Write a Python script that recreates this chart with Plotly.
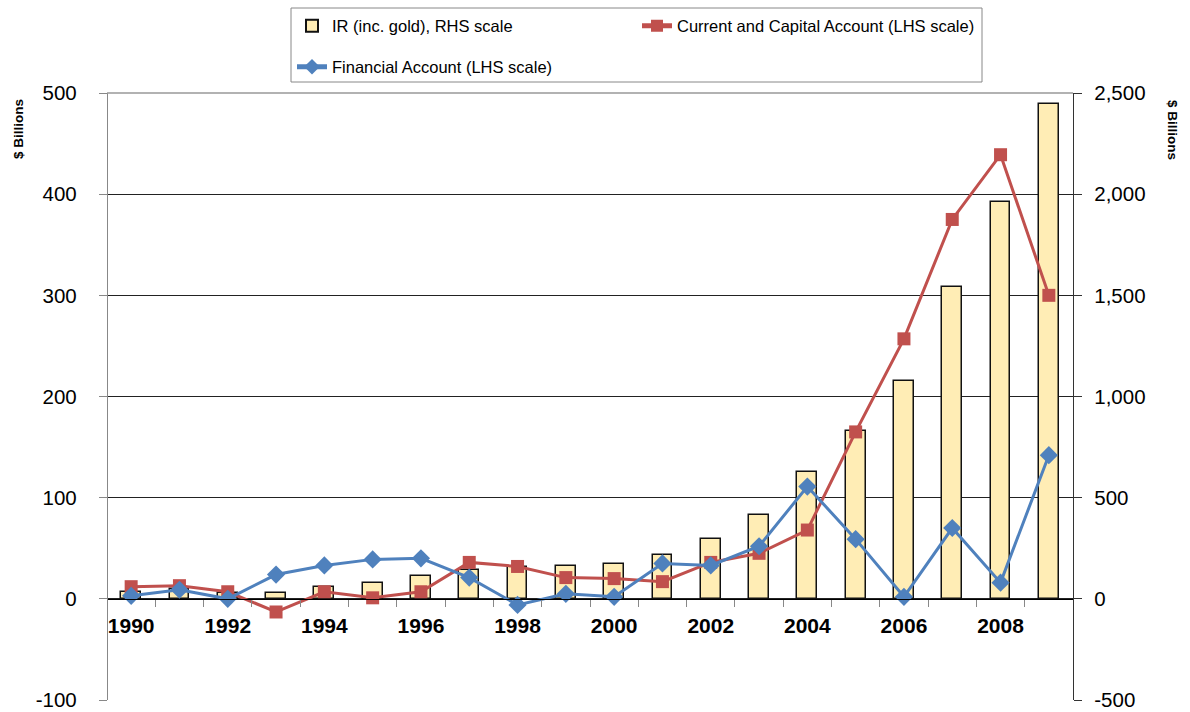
import plotly.graph_objects as go

# Annual series, $ billions
years = list(range(1990, 2010))
reserves_incl_gold = [35, 49, 30, 30, 59, 79, 114, 143, 158, 163,
                      173, 217, 296, 415, 627, 830, 1077, 1541, 1961, 2446]
current_capital = [12, 13, 7, -13, 7, 1, 7, 36, 32, 21,
                   20, 17, 36, 45, 68, 165, 257, 375, 439, 300]
financial = [3, 9, 0, 24, 33, 39, 40, 21, -6, 5,
             2, 35, 33, 52, 111, 59, 2, 70, 16, 142]
year_labels = [str(y) for y in years[::2]]

# Axis ticks (left: flows, right: reserves)
lhs_ticks = [-100, 0, 100, 200, 300, 400, 500]
lhs_labels = ["-100", "0", "100", "200", "300", "400", "500"]
rhs_ticks = [-500, 0, 500, 1000, 1500, 2000, 2500]
rhs_labels = ["-500", "0", "500", "1,000", "1,500", "2,000", "2,500"]

FONT = "Liberation Sans, Arial, sans-serif"
RED = "#C0504D"
BLUE = "#4F81BD"

fig = go.Figure()

# Reserves as bars on the right-hand scale (bottom subplot)
fig.add_trace(go.Bar(
    x=years, y=reserves_incl_gold, name="IR (inc. gold), RHS scale",
    width=0.41, marker=dict(color="#FFEDB5", line=dict(color="#111111", width=1.5)),
    xaxis="x", yaxis="y", legend="legend", showlegend=True,
))

# Flows as lines on the left-hand scale (overlay subplot, drawn on top)
fig.add_trace(go.Scatter(
    x=years, y=current_capital, name="Current and Capital Account (LHS scale)",
    mode="lines+markers", line=dict(color=RED, width=3),
    marker=dict(symbol="square", size=13, color=RED),
    xaxis="x2", yaxis="y2", legend="legend2", showlegend=True,
))
fig.add_trace(go.Scatter(
    x=years, y=financial, name="Financial Account (LHS scale)",
    mode="lines+markers", line=dict(color=BLUE, width=3),
    marker=dict(symbol="diamond", size=14, color=BLUE),
    xaxis="x2", yaxis="y2", legend="legend3", showlegend=True,
))

W, H = 1190, 712
L, R, T, B = 107, 117, 93, 12
pw, ph = W - L - R, H - T - B


def px_x(x):
    return (x - L) / pw


def px_y(y):
    return (H - B - y) / ph


boundaries = [y + 0.5 for y in years[:-1]]
x_range = [years[0] - 0.5, years[-1] + 0.5]

legend_font = dict(family=FONT, size=16.5, color="#000000")
common_legend = dict(font=legend_font, bgcolor="rgba(0,0,0,0)", borderwidth=0,
                     xanchor="left", yanchor="middle", orientation="v",
                     itemsizing="constant")

fig.update_layout(
    width=W, height=H,
    margin=dict(l=L, r=R, t=T, b=B, autoexpand=False),
    paper_bgcolor="white", plot_bgcolor="white",
    font=dict(family=FONT, color="#000000"),
    showlegend=True,
    bargap=0,
    # category axis line at zero with tick marks between years
    xaxis=dict(
        type="linear", range=x_range, automargin=False,
        anchor="free", position=1 / 6,
        showline=True, linecolor="#000000", linewidth=1.3,
        showgrid=False, zeroline=False,
        tickmode="array", tickvals=boundaries,
        ticks="outside", ticklen=7, tickwidth=1, tickcolor="#888888",
        showticklabels=False,
    ),
    # year labels every second year
    xaxis2=dict(
        type="linear", range=x_range, automargin=False,
        overlaying="x", anchor="free", position=1 / 6,
        showline=False, showgrid=False, zeroline=False,
        tickmode="array", tickvals=years[::2], ticktext=year_labels,
        ticks="", ticklabelstandoff=12,
        tickfont=dict(family=FONT, size=21, weight="bold", color="#000000"),
    ),
    yaxis=dict(
        side="right", range=[-500, 2500],
        tickmode="array", tickvals=rhs_ticks, ticktext=rhs_labels,
        automargin=False,
        showgrid=True, gridcolor="#222222", gridwidth=1,
        showline=True, linecolor="#333333", linewidth=1.3,
        ticks="outside", ticklen=8, tickcolor="#333333",
        zeroline=False, ticklabelstandoff=8,
        tickfont=dict(family=FONT, size=20.5, color="#000000"),
    ),
    yaxis2=dict(
        overlaying="y", side="left", range=[-100, 500],
        tickmode="array", tickvals=lhs_ticks, ticktext=lhs_labels,
        anchor="free", position=0, automargin=False,
        showgrid=False, zeroline=False,
        showline=True, linecolor="#888888", linewidth=1.3,
        ticks="outside", ticklen=8, tickcolor="#888888",
        ticklabelstandoff=18,
        tickfont=dict(family=FONT, size=20.5, color="#000000"),
    ),
    legend=dict(x=px_x(292), y=px_y(26), **common_legend),
    legend2=dict(x=px_x(637), y=px_y(26), **common_legend),
    legend3=dict(x=px_x(292), y=px_y(67), **common_legend),
    shapes=[
        # legend frame
        dict(type="rect", xref="paper", yref="paper",
             x0=px_x(291), x1=px_x(982), y0=px_y(82), y1=px_y(8),
             line=dict(color="#888888", width=1), fillcolor="rgba(0,0,0,0)"),
        # plot-area top edge
        dict(type="line", xref="paper", yref="paper", x0=0, x1=1, y0=1, y1=1,
             line=dict(color="#999999", width=1.3), layer="above"),
    ],
    annotations=[
        dict(text="<b>$ Billions</b>", xref="paper", yref="paper",
             x=px_x(18), y=px_y(129), textangle=-90, showarrow=False,
             font=dict(family=FONT, size=13.5, color="#000000"),
             xanchor="center", yanchor="middle"),
        dict(text="<b>$ Billions</b>", xref="paper", yref="paper",
             x=px_x(1172), y=px_y(130), textangle=90, showarrow=False,
             font=dict(family=FONT, size=13.5, color="#000000"),
             xanchor="center", yanchor="middle"),
    ],
)

fig.write_html("out.html")
